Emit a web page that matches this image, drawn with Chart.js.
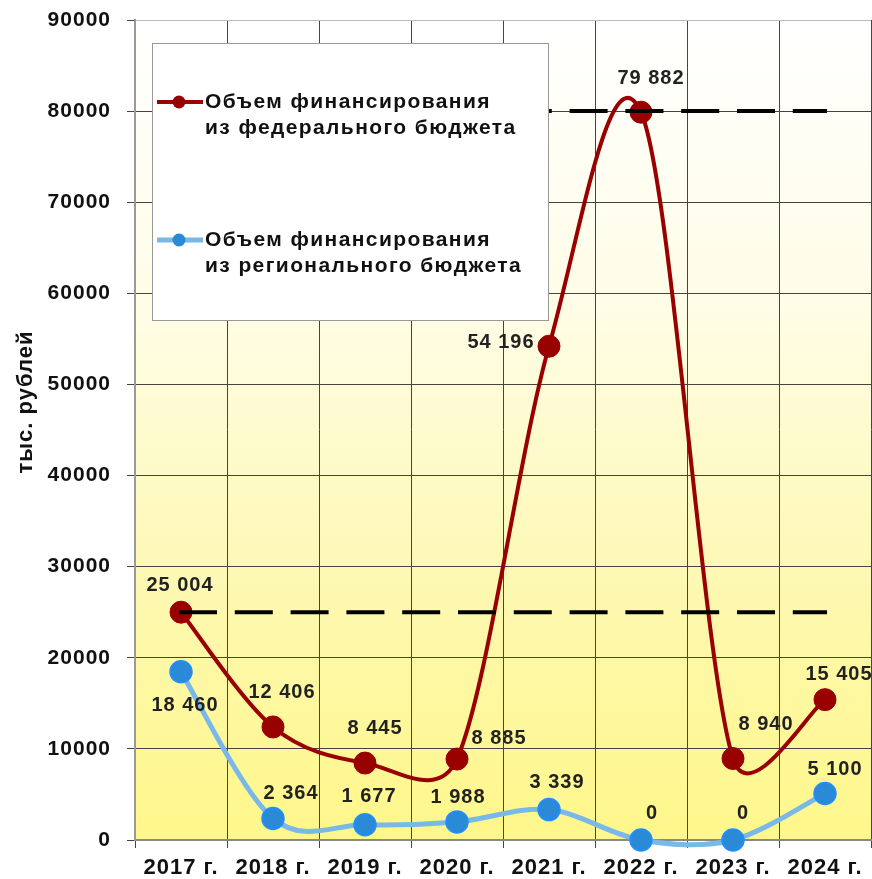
<!DOCTYPE html>
<html lang="ru">
<head>
<meta charset="utf-8">
<script src="https://cdn.jsdelivr.net/npm/chart.js@4.4.1/dist/chart.umd.min.js"></script>
<style>
  html, body { margin: 0; padding: 0; background: #fff; }
  #wrap { width: 872px; height: 879px; }
</style>
</head>
<body>
<div id="wrap"><canvas id="myChart" width="872" height="879"></canvas></div>
<script>
const YEARS = ["2017 г.", "2018 г.", "2019 г.", "2020 г.", "2021 г.", "2022 г.", "2023 г.", "2024 г."];
const federal = [25004, 12406, 8445, 8885, 54196, 79882, 8940, 15405];
const regional = [18460, 2364, 1677, 1988, 3339, 0, 0, 5100];
const LEVEL_LOW = 25000;
const LEVEL_HIGH = 80000;
const Y_MIN = 0, Y_MAX = 90000, Y_STEP = 10000;
const AXIS_TITLE = "тыс. рублей";
const LEGEND_FED = ["Объем финансирования", "из федерального бюджета"];
const LEGEND_REG = ["Объем финансирования", "из регионального бюджета"];

const RED = "#990000";
const BLUE_LINE = "#7ab8e8";
const BLUE_DOT = "#2a8ad8";
const FONT = "'Liberation Sans', Arial, sans-serif";

// смещения подписей значений относительно точек
const fedLabelShift = [[-1, -27], [9, -34], [10, -35], [42, -21], [-48, -4], [10, -34], [33, -34], [14, -25]];
const regLabelShift = [[4, 34], [18, -25], [4, -28], [1, -24], [8, -27], [11, -27], [10, -27], [10, -24]];

const fmt = v => String(v).replace(/\B(?=(\d{3})+(?!\d))/g, " ");

// фон области построения
const bgPlugin = {
  id: "bg",
  beforeDraw(chart) {
    const { ctx, chartArea: a } = chart;
    ctx.save();
    const g = ctx.createLinearGradient(0, a.top, 0, a.bottom);
    g.addColorStop(0, "#ffffff");
    g.addColorStop(0.35, "#fffde6");
    g.addColorStop(0.7, "#fdf8b0");
    g.addColorStop(1, "#fff78a");
    ctx.fillStyle = g;
    ctx.fillRect(a.left, a.top, a.right - a.left, a.bottom - a.top);
    ctx.restore();
    // немного разрядки для всего текста
    ctx.letterSpacing = "1px";
  }
};

// сглаживание как в Excel: касательная (next - prev) / 6, не длиннее половины отрезка
const smoothPlugin = {
  id: "excelSmooth",
  beforeDatasetsDraw(chart) {
    [2, 3].forEach(di => {
      const meta = chart.getDatasetMeta(di);
      meta.dataset.updateControlPoints(chart.chartArea, "x");
      const pts = meta.data;
      pts.forEach((p, i) => {
        const prev = pts[i - 1] || p;
        const next = pts[i + 1] || p;
        const tx = (next.x - prev.x) / 6;
        const ty = (next.y - prev.y) / 6;
        const tl = Math.hypot(tx, ty) || 1;
        const dPrev = Math.hypot(p.x - prev.x, p.y - prev.y) / 2;
        const dNext = Math.hypot(next.x - p.x, next.y - p.y) / 2;
        const kPrev = Math.min(1, dPrev / tl);
        const kNext = Math.min(1, dNext / tl);
        p.cp1x = p.x - tx * kPrev;
        p.cp1y = p.y - ty * kPrev;
        p.cp2x = p.x + tx * kNext;
        p.cp2y = p.y + ty * kNext;
      });
    });
  }
};

// подписи значений и заголовок оси
const labelPlugin = {
  id: "valueLabels",
  afterDraw(chart) {
    const { ctx } = chart;
    ctx.save();
    ctx.letterSpacing = "1px";
    ctx.font = "bold 20px " + FONT;
    ctx.fillStyle = "#222";
    ctx.textAlign = "center";
    ctx.textBaseline = "middle";
    [[2, federal, fedLabelShift], [3, regional, regLabelShift]].forEach(([di, vals, shift]) => {
      chart.getDatasetMeta(di).data.forEach((pt, i) => {
        ctx.fillText(fmt(vals[i]), pt.x + shift[i][0], pt.y + shift[i][1]);
      });
    });
    ctx.translate(26, 402);
    ctx.rotate(-Math.PI / 2);
    ctx.font = "bold 22px " + FONT;
    ctx.fillStyle = "#111";
    ctx.fillText(AXIS_TITLE, 0, 0);
    ctx.restore();
  }
};

// легенда внутри графика
const legendPlugin = {
  id: "boxLegend",
  afterDraw(chart) {
    const { ctx } = chart;
    ctx.save();
    ctx.fillStyle = "#fff";
    ctx.fillRect(152, 43, 396, 277);
    ctx.strokeStyle = "#999";
    ctx.lineWidth = 1;
    ctx.strokeRect(152.5, 43.5, 396, 277);

    const entries = [
      { y: 102, lines: LEGEND_FED, line: RED, lw: 4, dot: RED },
      { y: 240, lines: LEGEND_REG, line: BLUE_LINE, lw: 5, dot: BLUE_DOT }
    ];
    entries.forEach(e => {
      ctx.strokeStyle = e.line;
      ctx.lineWidth = e.lw;
      ctx.beginPath();
      ctx.moveTo(157, e.y);
      ctx.lineTo(203, e.y);
      ctx.stroke();
      ctx.fillStyle = e.dot;
      ctx.beginPath();
      ctx.arc(179, e.y, 6.5, 0, Math.PI * 2);
      ctx.fill();
      ctx.fillStyle = "#111";
      ctx.font = "bold 21px " + FONT;
      ctx.letterSpacing = "1.4px";
      ctx.textAlign = "left";
      ctx.textBaseline = "middle";
      e.lines.forEach((t, k) => ctx.fillText(t, 205, e.y + k * 26));
    });
    ctx.restore();
  }
};

const dashed = level => ({
  data: [{ x: YEARS[0], y: level }, { x: YEARS[YEARS.length - 1], y: level }],
  borderColor: "#000",
  borderWidth: 4,
  borderDash: [34, 21.8],
  borderCapStyle: "square",
  pointRadius: 0,
  order: 0
});

const config = {
  type: "line",
  data: {
    labels: YEARS,
    datasets: [
      dashed(LEVEL_HIGH),
      dashed(LEVEL_LOW),
      {
        label: LEGEND_FED.join(" "),
        data: federal,
        borderColor: RED,
        borderWidth: 4,
        backgroundColor: RED,
        pointBackgroundColor: RED,
        pointBorderColor: RED,
        pointRadius: 11,
        pointBorderWidth: 1,
        tension: 0.5,
        capBezierPoints: false,
        clip: false,
        order: 1
      },
      {
        label: LEGEND_REG.join(" "),
        data: regional,
        borderColor: BLUE_LINE,
        borderWidth: 5,
        backgroundColor: BLUE_DOT,
        pointBackgroundColor: BLUE_DOT,
        pointBorderColor: "#1e90ff",
        pointRadius: 11,
        pointBorderWidth: 1.5,
        tension: 0.5,
        capBezierPoints: false,
        clip: false,
        order: 2
      }
    ]
  },
  options: {
    responsive: false,
    animation: false,
    layout: { autoPadding: false, padding: { top: 20, right: 1, left: 0, bottom: 0 } },
    plugins: {
      legend: { display: false },
      tooltip: { enabled: false }
    },
    scales: {
      x: {
        offset: true,
        grid: {
          offset: true,
          color: ctx => (ctx.index === YEARS.length ? "#bbb" : "#444"),
          lineWidth: 1,
          tickLength: 8,
          tickColor: "#444"
        },
        border: { color: "#888", width: 2 },
        ticks: {
          color: "#111",
          padding: 7,
          maxRotation: 0,
          font: { family: FONT, size: 22, weight: "bold" }
        },
        afterFit: s => { s.height = 39; s.paddingLeft = 0; s.paddingRight = 0; }
      },
      y: {
        min: Y_MIN,
        max: Y_MAX,
        grid: {
          color: ctx => (ctx.tick && ctx.tick.value === Y_MAX ? "#bbb" : "#444"),
          lineWidth: 1,
          tickLength: 8,
          tickColor: "#444"
        },
        border: { color: "#999", width: 2 },
        ticks: {
          stepSize: Y_STEP,
          color: "#111",
          padding: 16,
          callback: v => String(v),
          font: { family: FONT, size: 21, weight: "bold" }
        },
        afterFit: s => { s.width = 135; s.paddingTop = 0; s.paddingBottom = 0; }
      }
    }
  },
  plugins: [bgPlugin, smoothPlugin, labelPlugin, legendPlugin]
};

const myChart = new Chart(document.getElementById("myChart"), config);
</script>
</body>
</html>
